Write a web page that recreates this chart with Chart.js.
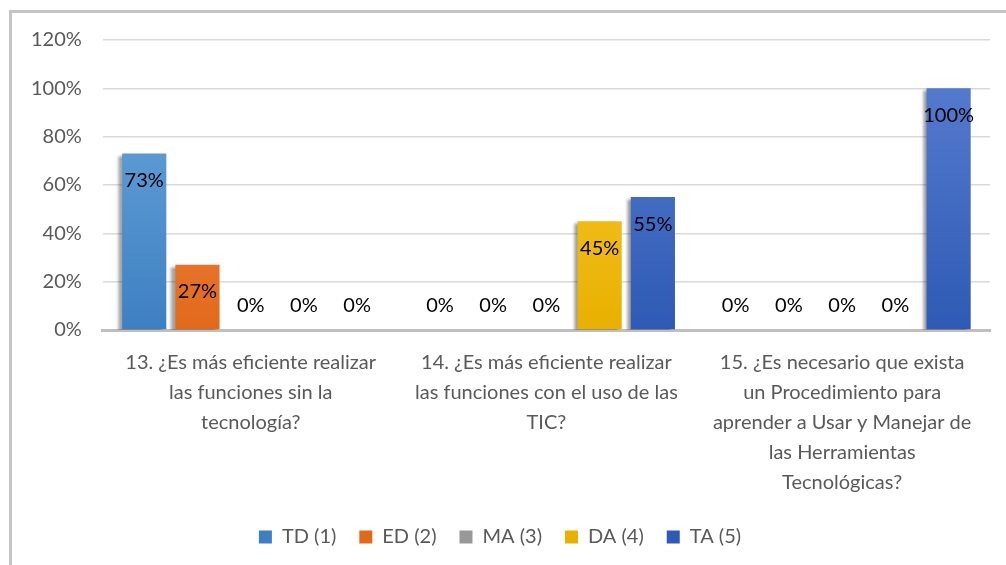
<!DOCTYPE html>
<html>
<head>
<meta charset="utf-8">
<script src="https://cdn.jsdelivr.net/npm/chart.js@4"></script>
<style>
  html, body { margin: 0; padding: 0; background: #fff; overflow: hidden; }
  #frame { position: absolute; left: 9px; top: 10px; width: 1010px; height: 570px; border: 3px solid #c4c4c4; box-sizing: border-box; }
  #wrap { position: absolute; left: 0; top: 0; width: 1006px; height: 565px; }
</style>
</head>
<body>
<div id="frame"></div>
<div id="wrap"><canvas id="chart_"></canvas></div>
<script>
const categories = [
    ['13. ¿Es más eficiente realizar', 'las funciones sin la', 'tecnología?'],
    ['14. ¿Es más eficiente realizar', 'las funciones con el uso de las', 'TIC?'],
    ['15. ¿Es necesario que exista', 'un Procedimiento para', 'aprender a Usar y Manejar de', 'las Herramientas', 'Tecnológicas?']
];
const seriesNames = ['TD (1)', 'ED (2)', 'MA (3)', 'DA (4)', 'TA (5)'];
const td = [73, 0, 0];
const ed = [27, 0, 0];
const ma = [0, 0, 0];
const da = [0, 45, 0];
const ta = [0, 55, 100];
const yTicks = [0, 20, 40, 60, 80, 100, 120];

// top / bottom colours for each series gradient
const shades = [
    ['#6fa9de', '#3d80c2'],
    ['#f39459', '#e2691a'],
    ['#b0b0b0', '#989898'],
    ['#ffca3c', '#e8b100'],
    ['#5b80d2', '#2e5ab5']
];

function grad(i) {
    return function (context) {
        const area = context.chart.chartArea;
        if (!area) return shades[i][1];
        const g = context.chart.ctx.createLinearGradient(0, area.top, 0, area.bottom);
        g.addColorStop(0, shades[i][0]);
        g.addColorStop(1, shades[i][1]);
        return g;
    };
}

// soft shadow like the office chart
const barShadow = {
    id: 'barShadow',
    beforeDatasetsDraw(chart) {
        const c = chart.ctx;
        c.save();
        c.shadowColor = 'rgba(0,0,0,0.4)';
        c.shadowBlur = 3;
        c.shadowOffsetX = -4;
        c.shadowOffsetY = 2;
    },
    afterDatasetsDraw(chart) {
        chart.ctx.restore();
    }
};

// value labels inside the bar end
const valueLabels = {
    id: 'valueLabels',
    afterDatasetsDraw(chart) {
        const c = chart.ctx;
        const base = chart.scales.y.getPixelForValue(0);
        c.save();
        c.font = '20px Lato';
        c.fillStyle = '#000';
        c.textAlign = 'center';
        c.textBaseline = 'middle';
        chart.data.datasets.forEach((ds, i) => {
            chart.getDatasetMeta(i).data.forEach((bar, j) => {
                const y = Math.min(bar.y + 27, base - 24);
                c.fillText(ds.data[j] + '%', bar.x, y);
            });
        });
        c.restore();
    }
};

const allSeries = [td, ed, ma, da, ta];

new Chart(document.getElementById('chart_'), {
    type: 'bar',
    data: {
        labels: categories,
        datasets: allSeries.map((d, i) => ({
            label: seriesNames[i],
            data: d,
            backgroundColor: grad(i),
            borderWidth: 0,
            categoryPercentage: 0.9,
            barPercentage: 0.83
        }))
    },
    options: {
        responsive: true,
        maintainAspectRatio: false,
        animation: false,
        layout: {
            padding: { left: 10, right: 16, top: 40, bottom: 8 }
        },
        scales: {
            x: {
                grid: { display: false, drawTicks: false },
                border: { color: '#bfbfbf', width: 3 },
                ticks: {
                    color: '#595959',
                    font: { family: 'Lato', size: 20, lineHeight: 1.5 },
                    padding: 18,
                    maxRotation: 0,
                    autoSkip: false
                },
                afterFit(axis) {
                    axis.height -= 12;
                }
            },
            y: {
                min: 0,
                max: 120,
                afterBuildTicks(axis) {
                    axis.ticks = yTicks.map(v => ({ value: v }));
                },
                grid: { color: '#d9d9d9', lineWidth: 1.5, drawTicks: false },
                border: { display: false },
                ticks: {
                    color: '#595959',
                    font: { family: 'Lato', size: 20 },
                    padding: 21,
                    callback: v => v + '%'
                }
            }
        },
        plugins: {
            legend: {
                position: 'bottom',
                labels: {
                    color: '#595959',
                    font: { family: 'Lato', size: 20 },
                    boxWidth: 13,
                    boxHeight: 13,
                    padding: 23
                }
            },
            tooltip: { enabled: false }
        }
    },
    plugins: [barShadow, valueLabels]
});
</script>
</body>
</html>
